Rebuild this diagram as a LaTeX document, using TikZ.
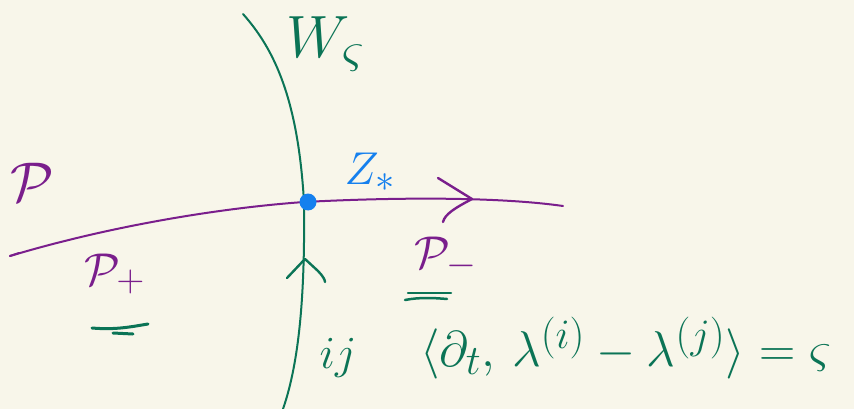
\documentclass[tikz,border=0pt]{standalone}
\usepackage{amsmath,amssymb}
\definecolor{bgcream}{HTML}{F8F6EA}
\definecolor{wallgreen}{HTML}{0B7456}
\definecolor{raypurple}{HTML}{7A1E8C}
\definecolor{dotblue}{HTML}{1580EE}
\begin{document}
\begin{tikzpicture}[x=1pt,y=-1pt,
  wall/.style={draw=wallgreen, line width=2pt, line cap=round, line join=round},
  ray/.style={draw=raypurple, line width=2pt, line cap=round, line join=round},
  lbl/.style={inner sep=0pt, font=\Huge},
  glabel/.style={lbl, text=wallgreen},
  plabel/.style={lbl, text=raypurple},
  blabel/.style={lbl, text=dotblue}]
\fill[bgcream] (0,0) rectangle (854,409);
\useasboundingbox (0,0) rectangle (854,409);
% wall
\coordinate (wtop) at (243,14);
\coordinate (wmid) at (304,202);
\coordinate (wbot) at (283,409);
\draw[wall] (wtop) .. controls (275,50) and (298,100) .. (wmid)
  .. controls (305,290) and (300,360) .. (wbot);
% ray
\coordinate (rleft) at (10,256);
\coordinate (rright) at (563,206);
\draw[ray] (rleft) .. controls (110,226) and (220,208) .. (wmid)
  .. controls (400,197) and (500,197) .. (rright);
\draw[ray] (rleft) -- (19,253);
% arrow chevron on ray
\coordinate (rtip) at (472,199);
\draw[ray, line width=2.4pt] (438,178) -- (rtip) .. controls (455,208) and (445,214) .. (443,222);
% arrow chevron on wall
\coordinate (wtip) at (305,259);
\draw[wall, line width=2.4pt] (287,278) -- (wtip) -- (318,271) .. controls (323,276) and (325,280) .. (325,282);
% dot
\node[circle, fill=dotblue, inner sep=0pt, minimum size=17pt] (z) at (308,202) {};
% labels
\node[glabel, scale=2.4] (W) at (326,44) {$W_{\varsigma}$};
\node[plabel, scale=2.25] (P) at (32,182) {$\mathcal{P}$};
\node[blabel, scale=1.85] (Z) at (370,172) {$Z_{*}$};
\node[plabel, scale=1.85] (Pp) at (115,274) {$\mathcal{P}_{+}$};
\node[plabel, scale=1.85] (Pm) at (446,258) {$\mathcal{P}_{-}$};
\node[glabel, scale=1.85] (ij) at (338,358) {$ij$};
\node[glabel, scale=2.02, anchor=west] (eq) at (420,348) {$\langle\partial_t,\,\lambda^{(i)}-\lambda^{(j)}\rangle=\varsigma$};
% underline marks
\draw[wall, line width=3pt] (92,328) .. controls (115,330) and (130,327) .. (148,324);
\draw[wall, line width=3pt] (113,333) -- (133,334);
\draw[wall, line width=2.5pt] (408,293) -- (451,293);
\draw[wall, line width=2.5pt] (405,300) .. controls (420,297) and (435,298) .. (447,299);
\end{tikzpicture}
\end{document}
